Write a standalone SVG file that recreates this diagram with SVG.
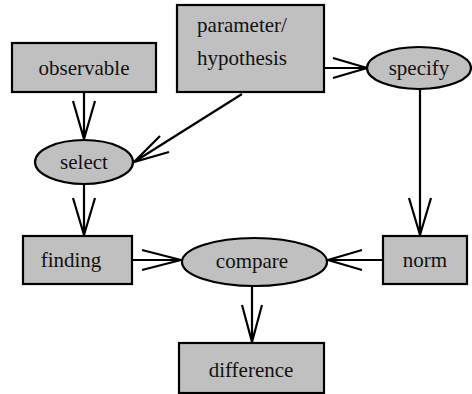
<svg xmlns="http://www.w3.org/2000/svg" width="472" height="394" viewBox="0 0 472 394" font-family="Liberation Serif, serif">
<style>
.n{fill:#c0c0c0;stroke:#000;stroke-width:2.2}
.e{stroke:#000;stroke-width:2.2;fill:none}
text{font-family:'Liberation Serif',serif;font-size:21px;fill:#111;text-anchor:middle}
</style>
<rect width="472" height="394" fill="#fff"/>
<g id="connectors">
<path class="e" d="M84 92V140M73 101L84 139L95 101"/>
<path class="e" d="M242 94L134 162M160 136L134 162L169 152"/>
<path class="e" d="M324 68H367M333 58L367 68L333 78"/>
<path class="e" d="M420 90V236M409 198L420 235L431 198"/>
<path class="e" d="M84 185V236M73 198L84 235L95 198"/>
<path class="e" d="M132 260H182M142 250L181 260L142 270"/>
<path class="e" d="M383 260H327M362 250L328 260L362 270"/>
<path class="e" d="M252 287V343M242 305L252 342L262 305"/>
</g>
<g id="observable"><rect class="n" x="12" y="43" width="144" height="49"/><text x="84" y="75">observable</text></g>
<g id="parameter"><rect class="n" x="177" y="5" width="147" height="87"/><text x="242" y="32">parameter/</text><text x="242" y="65">hypothesis</text></g>
<g id="specify"><ellipse class="n" cx="419" cy="68" rx="52" ry="21"/><text x="419" y="75">specify</text></g>
<g id="select"><ellipse class="n" cx="84" cy="162" rx="49" ry="22"/><text x="84" y="169">select</text></g>
<g id="finding"><rect class="n" x="23" y="236" width="109" height="48"/><text x="71" y="267">finding</text></g>
<g id="compare"><ellipse class="n" cx="254.5" cy="262" rx="72.5" ry="24"/><text x="252" y="268">compare</text></g>
<g id="norm"><rect class="n" x="383" y="236" width="84" height="48"/><text x="425" y="267">norm</text></g>
<g id="difference"><rect class="n" x="179" y="343" width="145" height="50"/><text x="251" y="377">difference</text></g>
</svg>
